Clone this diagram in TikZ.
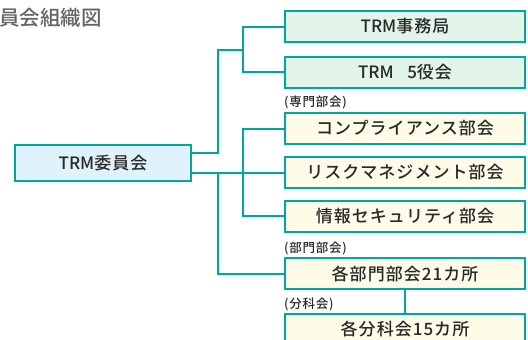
\documentclass[tikz,border=0pt]{standalone}
\usepackage{fontspec}
\setmainfont{Noto Sans CJK JP}[UprightFont=* Medium]
\newfontfamily\jp{Noto Sans CJK JP}[UprightFont=* Medium,LetterSpace=6]
\usetikzlibrary{positioning}

\definecolor{linecol}{RGB}{0,168,154}
\definecolor{greenfill}{RGB}{227,244,234}
\definecolor{yellowfill}{RGB}{254,252,232}
\definecolor{bluefill}{RGB}{224,242,252}
\definecolor{txtcol}{RGB}{40,40,40}
\definecolor{titlecol}{RGB}{100,100,100}

\begin{document}
\begin{tikzpicture}[x=1pt,y=-1pt,
  conn/.style={draw=linecol,line width=2pt},
  box/.style={draw=linecol,line width=2pt,minimum width=240pt,minimum height=31pt,
    inner sep=0pt,text=txtcol,font=\fontsize{17}{19}\selectfont},
  greenbox/.style={box,fill=greenfill},
  yellowbox/.style={box,fill=yellowfill},
  headbox/.style={box,fill=bluefill,minimum width=176pt,minimum height=36pt},
  group/.style={anchor=west,inner sep=0pt,text=txtcol,font=\jp\fontsize{12.5}{14}\selectfont}]

 \clip (0,0) rectangle (528,340);
 \fill[white] (0,0) rectangle (528,340);

 \node[anchor=west,inner sep=0pt,text=titlecol,font=\fontsize{20.5}{22}\selectfont] (title) at (-1,18) {員会組織図};

% Committee and its boxes
 \node[headbox] (iin) at (103,163) {TRM{\jp 委員会}};

 \node[greenbox] (jimu) at (405,26.5) {TRM{\jp 事務局}};
 \node[greenbox] (yaku) at (405,72) {TRM\hspace{0.8em}5{\jp 役会}};

 \node[group] (senmon) at (284,102) {(専門部会)};
 \node[yellowbox] (comp) at (405,128.5) {\jp コンプライアンス部会};
 \node[yellowbox] (risk) at (405,172.5) {\jp リスクマネジメント部会};
 \node[yellowbox] (joho) at (405,216) {\jp 情報セキュリティ部会};

 \node[group] (bumonlbl) at (284,248) {(部門部会)};
 \node[yellowbox] (bumon) at (405,273.5) {\jp 各部門部会21カ所};

 \node[group] (bunkalbl) at (284,304) {(分科会)};
 \node[yellowbox] (bunka) at (405,329) {\jp 各分科会15カ所};

% Branch points
 \coordinate (upleft) at (218,50);
 \coordinate (upright) at (243,50);
 \coordinate (midleft) at (218,172.5);
 \coordinate (midright) at (243,172.5);

% Upper branch: office and five officers
 \draw[conn] ([yshift=10pt]iin.east) -| (upleft) -- (upright);
 \draw[conn] (jimu.west) -| (upright) |- (yaku.west);

% Lower branch: special committees
 \draw[conn] (risk.west -| iin.east) -- (risk.west);
 \draw[conn] (comp.west) -| (midright) |- (joho.west);

% Department committees and subcommittees
 \draw[conn] (midleft) |- (bumon.west);
 \draw[conn] (bumon.south) -- (bunka.north);

\end{tikzpicture}
\end{document}
